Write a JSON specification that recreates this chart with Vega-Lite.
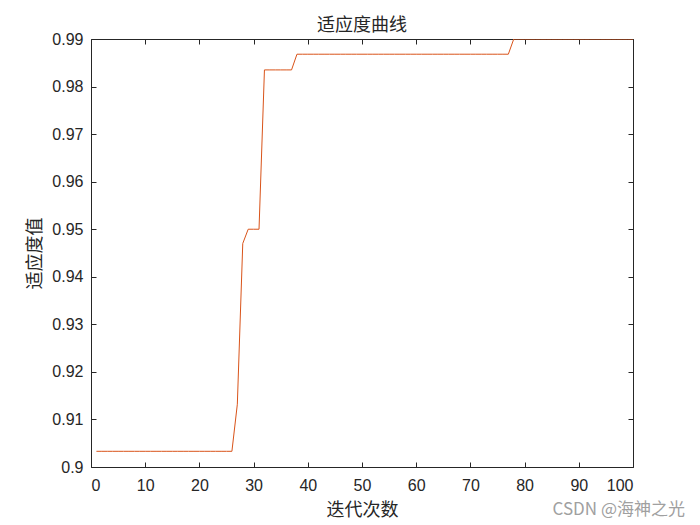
{
  "$schema": "https://vega.github.io/schema/vega-lite/v6.json",
  "width": 542,
  "height": 428,
  "autosize": {"type": "none"},
  "padding": {"left": 91, "top": 39, "right": 67, "bottom": 58},
  "background": "white",
  "title": {
    "text": "适应度曲线",
    "font": "Noto Sans CJK SC",
    "fontSize": 18,
    "fontWeight": "normal",
    "color": "#262626",
    "offset": -4
  },
  "data": {
    "values": [
      {"iter": 1, "fitness": 0.9033}, {"iter": 2, "fitness": 0.9033}, {"iter": 3, "fitness": 0.9033}, {"iter": 4, "fitness": 0.9033}, {"iter": 5, "fitness": 0.9033},
      {"iter": 6, "fitness": 0.9033}, {"iter": 7, "fitness": 0.9033}, {"iter": 8, "fitness": 0.9033}, {"iter": 9, "fitness": 0.9033}, {"iter": 10, "fitness": 0.9033},
      {"iter": 11, "fitness": 0.9033}, {"iter": 12, "fitness": 0.9033}, {"iter": 13, "fitness": 0.9033}, {"iter": 14, "fitness": 0.9033}, {"iter": 15, "fitness": 0.9033},
      {"iter": 16, "fitness": 0.9033}, {"iter": 17, "fitness": 0.9033}, {"iter": 18, "fitness": 0.9033}, {"iter": 19, "fitness": 0.9033}, {"iter": 20, "fitness": 0.9033},
      {"iter": 21, "fitness": 0.9033}, {"iter": 22, "fitness": 0.9033}, {"iter": 23, "fitness": 0.9033}, {"iter": 24, "fitness": 0.9033}, {"iter": 25, "fitness": 0.9033},
      {"iter": 26, "fitness": 0.9033}, {"iter": 27, "fitness": 0.9132}, {"iter": 28, "fitness": 0.947}, {"iter": 29, "fitness": 0.95}, {"iter": 30, "fitness": 0.95},
      {"iter": 31, "fitness": 0.95}, {"iter": 32, "fitness": 0.9835}, {"iter": 33, "fitness": 0.9835}, {"iter": 34, "fitness": 0.9835}, {"iter": 35, "fitness": 0.9835},
      {"iter": 36, "fitness": 0.9835}, {"iter": 37, "fitness": 0.9835}, {"iter": 38, "fitness": 0.9868}, {"iter": 39, "fitness": 0.9868}, {"iter": 40, "fitness": 0.9868},
      {"iter": 41, "fitness": 0.9868}, {"iter": 42, "fitness": 0.9868}, {"iter": 43, "fitness": 0.9868}, {"iter": 44, "fitness": 0.9868}, {"iter": 45, "fitness": 0.9868},
      {"iter": 46, "fitness": 0.9868}, {"iter": 47, "fitness": 0.9868}, {"iter": 48, "fitness": 0.9868}, {"iter": 49, "fitness": 0.9868}, {"iter": 50, "fitness": 0.9868},
      {"iter": 51, "fitness": 0.9868}, {"iter": 52, "fitness": 0.9868}, {"iter": 53, "fitness": 0.9868}, {"iter": 54, "fitness": 0.9868}, {"iter": 55, "fitness": 0.9868},
      {"iter": 56, "fitness": 0.9868}, {"iter": 57, "fitness": 0.9868}, {"iter": 58, "fitness": 0.9868}, {"iter": 59, "fitness": 0.9868}, {"iter": 60, "fitness": 0.9868},
      {"iter": 61, "fitness": 0.9868}, {"iter": 62, "fitness": 0.9868}, {"iter": 63, "fitness": 0.9868}, {"iter": 64, "fitness": 0.9868}, {"iter": 65, "fitness": 0.9868},
      {"iter": 66, "fitness": 0.9868}, {"iter": 67, "fitness": 0.9868}, {"iter": 68, "fitness": 0.9868}, {"iter": 69, "fitness": 0.9868}, {"iter": 70, "fitness": 0.9868},
      {"iter": 71, "fitness": 0.9868}, {"iter": 72, "fitness": 0.9868}, {"iter": 73, "fitness": 0.9868}, {"iter": 74, "fitness": 0.9868}, {"iter": 75, "fitness": 0.9868},
      {"iter": 76, "fitness": 0.9868}, {"iter": 77, "fitness": 0.9868}, {"iter": 78, "fitness": 0.99}, {"iter": 79, "fitness": 0.99}, {"iter": 80, "fitness": 0.99},
      {"iter": 81, "fitness": 0.99}, {"iter": 82, "fitness": 0.99}, {"iter": 83, "fitness": 0.99}, {"iter": 84, "fitness": 0.99}, {"iter": 85, "fitness": 0.99},
      {"iter": 86, "fitness": 0.99}, {"iter": 87, "fitness": 0.99}, {"iter": 88, "fitness": 0.99}, {"iter": 89, "fitness": 0.99}, {"iter": 90, "fitness": 0.99},
      {"iter": 91, "fitness": 0.99}, {"iter": 92, "fitness": 0.99}, {"iter": 93, "fitness": 0.99}, {"iter": 94, "fitness": 0.99}, {"iter": 95, "fitness": 0.99},
      {"iter": 96, "fitness": 0.99}, {"iter": 97, "fitness": 0.99}, {"iter": 98, "fitness": 0.99}, {"iter": 99, "fitness": 0.99}, {"iter": 100, "fitness": 0.99}
    ]
  },
  "layer": [
    {
      "mark": {"type": "line", "color": "#D95319", "strokeWidth": 1, "clip": true},
      "encoding": {
        "x": {
          "field": "iter", "type": "quantitative",
          "scale": {"domain": [0, 100], "nice": false, "zero": false},
          "axis": {
            "orient": "bottom",
            "title": "迭代次数",
            "values": [0, 10, 20, 30, 40, 50, 60, 70, 80, 90, 100],
            "labelPadding": 15,
            "titlePadding": 8
          }
        },
        "y": {
          "field": "fitness", "type": "quantitative",
          "scale": {"domain": [0.9, 0.99], "nice": false, "zero": false},
          "axis": {
            "orient": "left",
            "title": "适应度值",
            "values": [0.9, 0.91, 0.92, 0.93, 0.94, 0.95, 0.96, 0.97, 0.98, 0.99],
            "format": ".2~f",
            "labelPadding": 13,
            "titlePadding": 7
          }
        }
      }
    },
    {
      "mark": {"type": "line", "opacity": 0},
      "encoding": {
        "x": {
          "field": "iter", "type": "quantitative",
          "scale": {"domain": [0, 100], "nice": false, "zero": false},
          "axis": {"orient": "top", "title": null, "labels": false, "values": [0, 10, 20, 30, 40, 50, 60, 70, 80, 90, 100]}
        },
        "y": {
          "field": "fitness", "type": "quantitative",
          "scale": {"domain": [0.9, 0.99], "nice": false, "zero": false},
          "axis": {"orient": "right", "title": null, "labels": false, "values": [0.9, 0.91, 0.92, 0.93, 0.94, 0.95, 0.96, 0.97, 0.98, 0.99]}
        }
      }
    },
    {
      "data": {"values": [{"label": "CSDN @海神之光"}]},
      "mark": {"type": "text", "align": "right", "baseline": "middle", "dx": 52, "dy": 43, "font": "Noto Sans CJK SC", "fontSize": 17, "color": "#a0a0a0"},
      "encoding": {
        "text": {"field": "label"},
        "x": {"datum": 100, "axis": null},
        "y": {"datum": 0.9, "axis": null}
      }
    }
  ],
  "resolve": {"axis": {"x": "independent", "y": "independent"}},
  "config": {
    "view": {"stroke": null},
    "axis": {
      "grid": false,
      "domainColor": "#262626",
      "domainWidth": 1,
      "tickColor": "#262626",
      "tickSize": -5,
      "tickWidth": 1,
      "labelFont": "Liberation Sans",
      "labelFontSize": 16,
      "labelColor": "#262626",
      "titleFont": "Noto Sans CJK SC",
      "titleFontSize": 18,
      "titleFontWeight": "normal",
      "titleColor": "#262626"
    }
  }
}
